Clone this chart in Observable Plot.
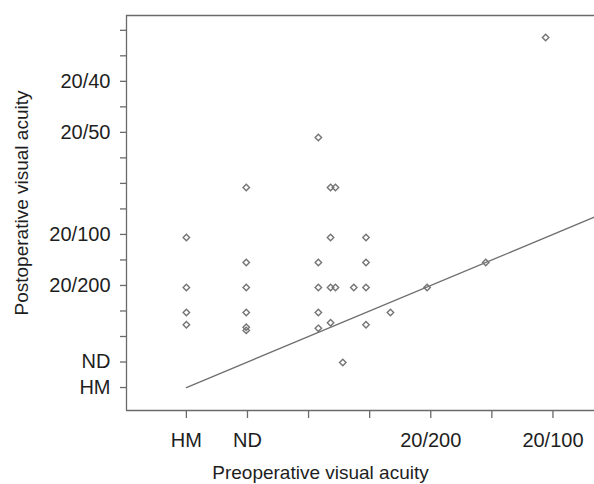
<!DOCTYPE html>
<html>
<head>
<meta charset="utf-8">
<script src="https://cdn.jsdelivr.net/npm/d3@7"></script>
<script src="https://cdn.jsdelivr.net/npm/@observablehq/plot@0.6"></script>
<style>
  html, body { margin: 0; padding: 0; background: #fff; }
  #chart svg { display: block; }
</style>
</head>
<body>
<div id="chart"></div>
<script>
// Decimal visual acuity (HM and ND placed on the same linear scale below 20/400)
const preop = [
  -0.100, -0.100, -0.100, -0.100,
  -0.051, -0.051, -0.051, -0.051, -0.051, -0.051,
  0.008, 0.008, 0.008, 0.008, 0.008,
  0.018, 0.022, 0.018, 0.018, 0.022, 0.018,
  0.028, 0.037,
  0.047, 0.047, 0.047, 0.047,
  0.067, 0.097, 0.145, 0.194
];
const postop = [
  0.194, 0.096, 0.047, 0.023,
  0.292, 0.145, 0.096, 0.047, 0.018, 0.012,
  0.390, 0.145, 0.096, 0.047, 0.016,
  0.292, 0.292, 0.194, 0.096, 0.096, 0.027,
  -0.051, 0.096,
  0.194, 0.145, 0.096, 0.023,
  0.047, 0.096, 0.145, 0.586
];

const xTickValues = [-0.1, -0.05, 0, 0.05, 0.1, 0.15, 0.2];
const xTickLabels = ["HM", "ND", "", "", "20/200", "", "20/100"];
const yTickValues = [-0.1, -0.05, 0, 0.05, 0.1, 0.15, 0.2, 0.25, 0.3, 0.35, 0.4, 0.45, 0.5, 0.55, 0.6];
const yTickLabels = ["HM", "ND", "", "", "20/200", "", "20/100", "", "", "", "20/50", "", "20/40", "", ""];

const xDomain = [-0.149, 0.234];
const yDomain = [-0.145, 0.629];
const equalityLine = [-0.1, 0.234];

const xTitle = "Preoperative visual acuity";
const yTitle = "Postoperative visual acuity";

const points = preop.map((x, i) => ({x, y: postop[i]}));

const axisGrey = "#6a6a6a";
const textColor = "#1e1e1e";
const fontFamily = "'Liberation Sans', Arial, Helvetica, sans-serif";

const chart = Plot.plot({
  width: 594,
  height: 484,
  marginLeft: 126,
  marginRight: 0,
  marginTop: 15,
  marginBottom: 74,
  style: {fontFamily, fontSize: "20px", color: textColor, background: "#fff", overflow: "visible"},
  x: {domain: xDomain, axis: null},
  y: {domain: yDomain, axis: null},
  marks: [
    Plot.ruleY([yDomain[0]], {stroke: axisGrey, strokeWidth: 1.3}),
    Plot.ruleY([yDomain[1]], {stroke: axisGrey, strokeWidth: 1.3}),
    Plot.ruleX([xDomain[0]], {stroke: axisGrey, strokeWidth: 1.3}),
    Plot.axisX(xTickValues, {
      anchor: "bottom", label: null, tickSize: 8, tickPadding: 14,
      tickFormat: d => xTickLabels[xTickValues.indexOf(d)],
      stroke: axisGrey, strokeWidth: 1.3, fill: textColor, fontSize: 20
    }),
    Plot.axisY(yTickValues, {
      anchor: "left", label: null, tickSize: 6, tickPadding: 10,
      tickFormat: d => yTickLabels[yTickValues.indexOf(d)],
      stroke: axisGrey, strokeWidth: 1.3, fill: textColor, fontSize: 20
    }),
    Plot.line(equalityLine, {x: d => d, y: d => d, stroke: "#707070", strokeWidth: 1.3}),
    Plot.dot(points, {x: "x", y: "y", symbol: "diamond2", r: 2.9, stroke: "#747474", strokeWidth: 1.4, fill: "none"}),
    Plot.text([xTitle], {text: d => d, frameAnchor: "bottom", textAnchor: "middle", lineAnchor: "middle", dx: -40, dy: 62, fontSize: 19, fill: textColor}),
    Plot.text([yTitle], {text: d => d, frameAnchor: "left", textAnchor: "middle", lineAnchor: "middle", rotate: -90, dx: -105, dy: -10, fontSize: 19, fill: textColor})
  ]
});

document.getElementById("chart").appendChild(chart);
</script>
</body>
</html>
